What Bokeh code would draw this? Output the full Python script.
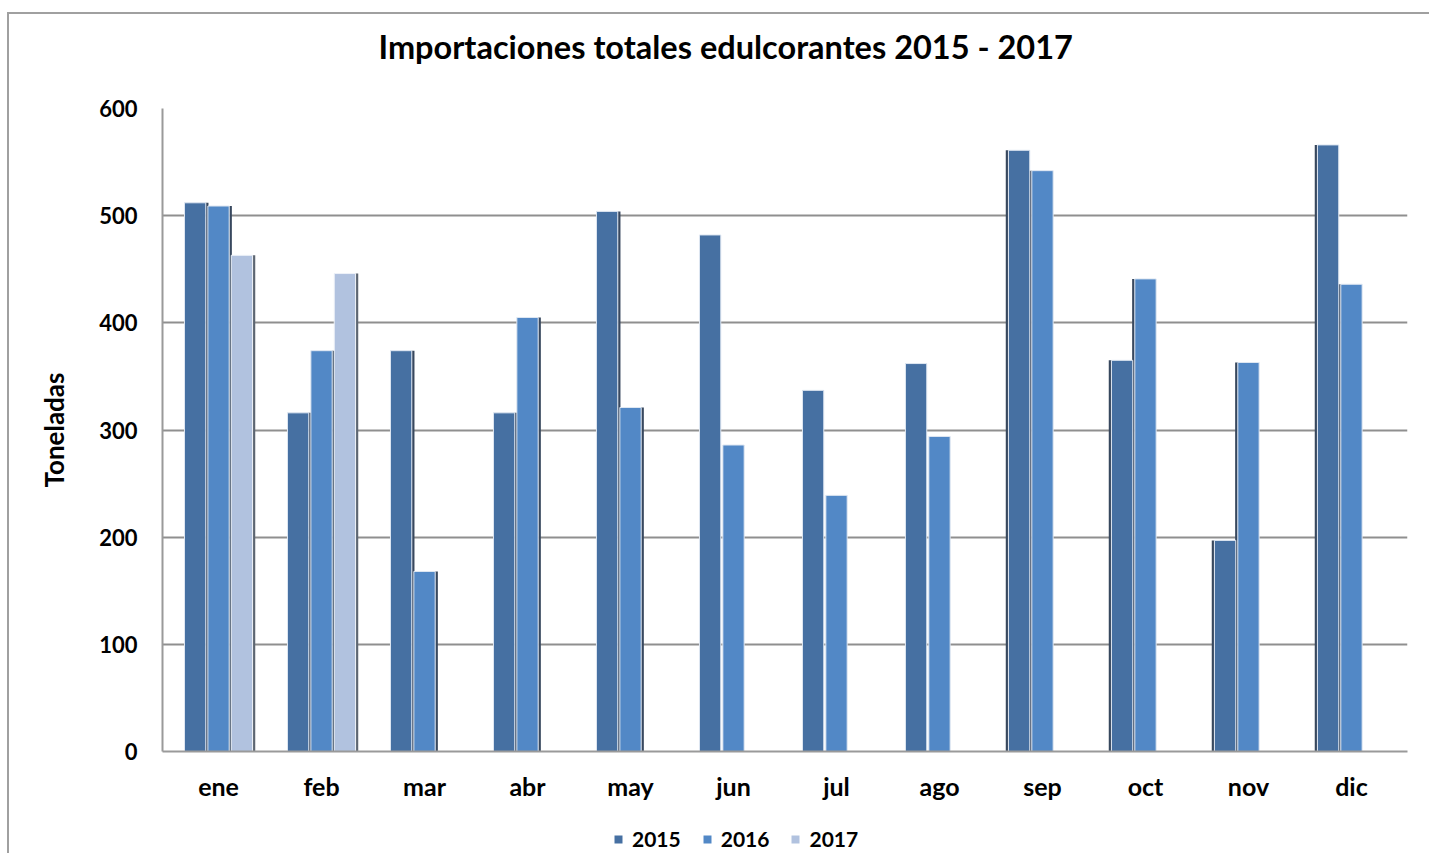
from bokeh.plotting import figure
from bokeh.models import FactorRange, Legend, LegendItem, ColumnDataSource
from bokeh.layouts import column
from bokeh.transform import dodge
from bokeh.embed import file_html
from bokeh.resources import INLINE

months = ["ene", "feb", "mar", "abr", "may", "jun", "jul", "ago", "sep", "oct", "nov", "dic"]
years = ["2015", "2016", "2017"]
v2015 = [512, 316, 374, 316, 504, 482, 337, 362, 561, 365, 197, 566]
v2016 = [509, 374, 168, 405, 321, 286, 239, 294, 542, 441, 363, 436]
months2017 = ["ene", "feb"]
v2017 = [463, 446]
yticks = [0, 100, 200, 300, 400, 500, 600]
title_text = "Importaciones totales edulcorantes 2015 - 2017"

colors = {"2015": "#4670A2", "2016": "#5288C6", "2017": "#B1C2DF"}
FONT = "Lato"

# title strip
tf = figure(width=1420, height=82, output_backend="svg", toolbar_location=None,
            x_range=(0, 1), y_range=(0, 1), min_border_top=51, min_border_bottom=0,
            min_border_left=0, min_border_right=0)
tf.axis.visible = False
tf.grid.visible = False
tf.outline_line_color = None
tf.title.text = title_text
tf.title.align = "left"
tf.title.offset = 216
tf.title.text_font = FONT
tf.title.text_font_size = "32.5px"
tf.title.text_font_style = "bold"
tf.title.text_color = "black"
tf.title.standoff = 0
tf.scatter(x=[0.5], y=[0.5], size=0, fill_alpha=0, line_alpha=0)

p = figure(
    x_range=FactorRange(*months, range_padding=0.044, range_padding_units="absolute"),
    y_range=(0, 600),
    width=1420, height=719,
    output_backend="svg", toolbar_location=None,
    min_border_left=153, min_border_right=22, min_border_top=12, min_border_bottom=64,
)
p.title.visible = False

src15 = ColumnDataSource(dict(m=months, v=v2015))
src16 = ColumnDataSource(dict(m=months, v=v2016))
src17 = ColumnDataSource(dict(m=months2017, v=v2017))

off = 0.227
bw = 0.207
sw = 0.026

# side shadows (3D look)
side = [1, 1, 1, 1, 1, 0, 0, 0, -1, -1, -1, -1]
for vals, o in ((v2015, -off), (v2016, 0.0)):
    xs, hs = [], []
    for m, v, s in zip(months, vals, side):
        if s != 0:
            xs.append((m, o + s * (bw / 2 + sw / 2)))
            hs.append(v)
    p.vbar(x=xs, top=hs, width=sw, fill_color="#38485e", line_color=None)
xs17 = [(m, off + bw / 2 + sw / 2) for m in months2017]
p.vbar(x=xs17, top=v2017, width=sw, fill_color="#5d6672", line_color=None)

p.vbar(x=dodge("m", -off, range=p.x_range), top="v", width=bw, source=src15,
       fill_color=colors["2015"], line_color="#dfe7f2", line_width=1)
p.vbar(x=dodge("m", 0.0, range=p.x_range), top="v", width=bw, source=src16,
       fill_color=colors["2016"], line_color="#dfe7f2", line_width=1)
p.vbar(x=dodge("m", off, range=p.x_range), top="v", width=bw, source=src17,
       fill_color=colors["2017"], line_color="#eef2f8", line_width=1)

p.outline_line_color = None
p.background_fill_color = "white"
p.xgrid.grid_line_color = None
p.ygrid.grid_line_color = "#8f8f8f"
p.ygrid.grid_line_width = 2
p.ygrid.ticker = yticks

p.yaxis.ticker = yticks
p.yaxis.axis_line_color = "#9a9a9a"
p.yaxis.axis_line_width = 2
p.yaxis.major_tick_line_color = None
p.yaxis.minor_tick_line_color = None
p.yaxis.major_label_standoff = 19
p.yaxis.major_label_text_font = FONT
p.yaxis.major_label_text_font_size = "22px"
p.yaxis.major_label_text_font_style = "bold"
p.yaxis.major_label_text_color = "black"
p.yaxis.axis_label = "Toneladas"
p.yaxis.axis_label_text_font = FONT
p.yaxis.axis_label_text_font_size = "26px"
p.yaxis.axis_label_text_font_style = "bold"
p.yaxis.axis_label_text_color = "black"
p.yaxis.axis_label_standoff = 26

p.xaxis.axis_line_color = "#9a9a9a"
p.xaxis.axis_line_width = 2
p.xaxis.major_tick_line_color = None
p.xaxis.minor_tick_line_color = None
p.xaxis.major_label_standoff = 13
p.xaxis.major_label_text_font = FONT
p.xaxis.major_label_text_font_size = "25px"
p.xaxis.major_label_text_font_style = "bold"
p.xaxis.major_label_text_color = "black"

# legend strip below the chart
lg = figure(width=1420, height=38, output_backend="svg", toolbar_location=None,
            x_range=(0, 1), y_range=(0, 1), min_border=0)
lg.axis.visible = False
lg.grid.visible = False
lg.outline_line_color = None
lr = [lg.vbar(x=[0.5], top=[0], bottom=[0], width=0.0,
              fill_color=colors[y], line_color=None) for y in years]
legend = Legend(
    items=[LegendItem(label=y, renderers=[r]) for y, r in zip(years, lr)],
    orientation="horizontal",
    location=(451, 2),
    padding=0, margin=0, spacing=21,
    glyph_width=10, glyph_height=10, label_standoff=9,
    label_text_font=FONT, label_text_font_size="21px", label_text_font_style="bold",
    label_text_color="black",
    border_line_color=None, background_fill_alpha=0,
)
lg.add_layout(legend, "center")

page = column(tf, p, lg, spacing=0)
page.styles = {"border-left": "2px solid #a0a0a0", "border-top": "2px solid #a0a0a0",
               "margin-left": "7px", "margin-top": "12px"}

open("out.html", "w").write(file_html(page, INLINE))
